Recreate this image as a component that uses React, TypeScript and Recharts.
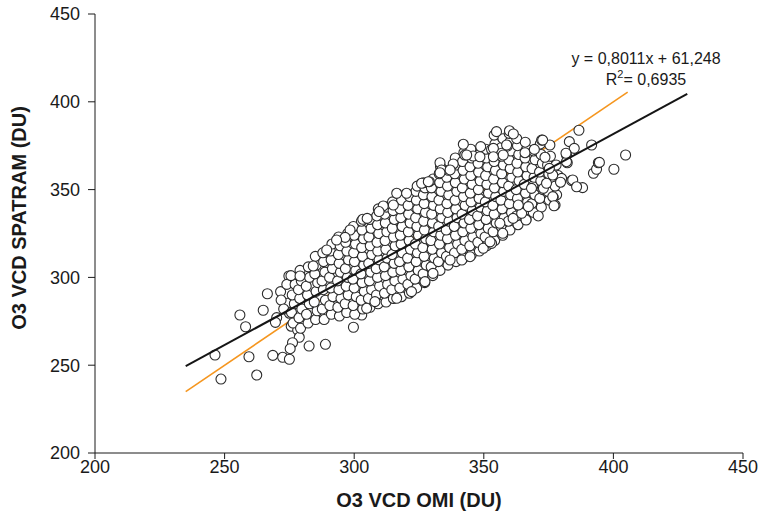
import React from 'react';
import { ScatterChart, Scatter, XAxis, YAxis } from 'recharts';

// O3 vertical column density, OMI (x) vs SPATRAM (y), Dobson units
const axisTicks = [200, 250, 300, 350, 400, 450];

const lowerTail: [number, number][] = [
  [246.3, 255.8], [248.6, 242.1], [255.9, 278.6], [258.1, 271.9], [259.4, 254.8], [262.4, 244.4],
  [264.9, 281.3], [266.5, 290.7], [268.6, 255.6], [272.4, 254.5], [275.0, 253.4], [282.6, 260.9],
  [288.9, 261.9], [270.1, 277.1], [269.6, 274.4], [275.7, 272.2], [278.2, 270.0], [278.8, 265.9],
  [276.2, 262.8], [275.3, 259.4], [275.0, 279.6], [274.8, 300.8], [271.6, 291.9], [274.2, 285.3],
  [271.8, 287.1], [274.0, 296.0], [272.8, 282.0], [299.7, 271.6], [302.9, 278.6],
];

const coreWest: [number, number][] = [
  [276.4, 274], [275.8, 280], [276.9, 285], [276.1, 290], [277.2, 296], [275.6, 301],
  [279.3, 271], [278.7, 277], [279.8, 282], [279.0, 288], [278.5, 293], [279.6, 298], [279.1, 304],
  [282.2, 274], [281.6, 279], [282.7, 285], [282.0, 290], [281.5, 295], [282.8, 300], [282.3, 306],
  [285.1, 276], [285.7, 281], [284.6, 286], [285.3, 292], [285.9, 297], [284.8, 302], [285.4, 307], [285.0, 312],
  [288.4, 276], [287.7, 282], [288.9, 287], [288.1, 293], [287.6, 298], [288.7, 303], [288.2, 309], [287.9, 314],
  [291.2, 279], [290.6, 284], [291.8, 289], [291.0, 294], [290.5, 300], [291.6, 305], [291.1, 310], [290.8, 315], [291.4, 319],
  [294.3, 278], [293.7, 283], [294.9, 288], [294.1, 293], [293.6, 298], [294.7, 303], [294.2, 308], [293.9, 313], [294.6, 318], [294.0, 323],
  [297.1, 280], [296.5, 285], [297.7, 290], [296.9, 295], [297.4, 300], [296.6, 305], [297.8, 310], [297.2, 315], [296.7, 320], [297.5, 325],
  [300.2, 279], [299.6, 284], [300.8, 289], [300.0, 294], [299.5, 299], [300.6, 304], [300.1, 309], [299.8, 314], [300.5, 319], [300.0, 324], [299.7, 329],
  [303.3, 282], [302.7, 287], [303.9, 292], [303.1, 297], [302.6, 302], [303.7, 307], [303.2, 312], [302.9, 317], [303.6, 322], [303.0, 327], [302.8, 332],
  [306.1, 283], [305.5, 288], [306.7, 293], [305.9, 298], [306.4, 303], [305.6, 308], [306.8, 313], [306.2, 318], [305.7, 323], [306.5, 328], [306.0, 333],
  [309.2, 285], [308.6, 290], [309.8, 295], [309.0, 300], [308.5, 305], [309.6, 310], [309.1, 315], [308.8, 320], [309.5, 325], [309.0, 330], [308.7, 335], [309.3, 339],
  [312.3, 286], [311.7, 291], [312.9, 296], [312.1, 301], [311.6, 306], [312.7, 311], [312.2, 316], [311.9, 321], [312.6, 326], [312.0, 331], [311.8, 336], [312.4, 340],
  [315.1, 288], [314.5, 293], [315.7, 298], [314.9, 303], [315.4, 308], [314.6, 313], [315.8, 318], [315.2, 323], [314.7, 328], [315.5, 333], [315.0, 338], [314.8, 343],
  [318.2, 289], [317.6, 294], [318.8, 299], [318.0, 304], [317.5, 309], [318.6, 314], [318.1, 319], [317.8, 324], [318.5, 329], [318.0, 334], [317.7, 339], [318.3, 344],
  [321.3, 291], [320.7, 296], [321.9, 301], [321.1, 306], [320.6, 311], [321.7, 316], [321.2, 321], [320.9, 326], [321.6, 331], [321.0, 336], [320.8, 341], [321.4, 346],
  [324.1, 294], [323.5, 299], [324.7, 304], [323.9, 309], [324.4, 314], [323.6, 319], [324.8, 324], [324.2, 329], [323.7, 334], [324.5, 339], [324.0, 344], [323.8, 349], [324.3, 352],
  [327.2, 297], [326.6, 302], [327.8, 307], [327.0, 312], [326.5, 317], [327.6, 322], [327.1, 327], [326.8, 332], [327.5, 337], [327.0, 342], [326.7, 347], [327.3, 351],
];

const coreEast: [number, number][] = [
  [330.3, 301], [329.7, 306], [330.9, 311], [330.1, 316], [329.6, 321], [330.7, 326], [330.2, 331], [329.9, 336], [330.6, 341], [330.0, 346], [329.8, 351], [330.4, 356],
  [333.1, 304], [332.5, 309], [333.7, 314], [332.9, 319], [333.4, 324], [332.6, 329], [333.8, 334], [333.2, 339], [332.7, 344], [333.5, 349], [333.0, 354], [332.8, 359], [333.3, 363],
  [336.2, 307], [335.6, 312], [336.8, 317], [336.0, 322], [335.5, 327], [336.6, 332], [336.1, 337], [335.8, 342], [336.5, 347], [336.0, 352], [335.7, 357], [336.3, 361],
  [339.3, 309], [338.7, 314], [339.9, 319], [339.1, 324], [338.6, 329], [339.7, 334], [339.2, 339], [338.9, 344], [339.6, 349], [339.0, 354], [338.8, 359], [339.4, 364], [339.0, 368],
  [342.1, 311], [341.5, 316], [342.7, 321], [341.9, 326], [342.4, 331], [341.6, 336], [342.8, 341], [342.2, 346], [341.7, 351], [342.5, 356], [342.0, 361], [341.8, 366], [342.3, 371],
  [345.2, 313], [344.6, 318], [345.8, 323], [345.0, 328], [344.5, 333], [345.6, 338], [345.1, 343], [344.8, 348], [345.5, 353], [345.0, 358], [344.7, 363], [345.3, 368], [345.0, 373],
  [348.3, 315], [347.7, 320], [348.9, 325], [348.1, 330], [347.6, 335], [348.7, 340], [348.2, 345], [347.9, 350], [348.6, 355], [348.0, 360], [347.8, 365], [348.4, 370],
  [351.1, 318], [350.5, 323], [351.7, 328], [350.9, 333], [351.4, 338], [350.6, 343], [351.8, 348], [351.2, 353], [350.7, 358], [351.5, 363], [351.0, 368], [350.8, 373],
  [354.2, 321], [353.6, 326], [354.8, 331], [354.0, 336], [353.5, 341], [354.6, 346], [354.1, 351], [353.8, 356], [354.5, 361], [354.0, 366], [353.7, 371], [354.3, 376], [354.0, 381],
  [357.3, 324], [356.7, 329], [357.9, 334], [357.1, 339], [356.6, 344], [357.7, 349], [357.2, 354], [356.9, 359], [357.6, 364], [357.0, 369], [356.8, 374], [357.4, 379],
  [360.1, 327], [359.5, 332], [360.7, 337], [359.9, 342], [360.4, 347], [359.6, 352], [360.8, 357], [360.2, 362], [359.7, 367], [360.5, 372], [360.0, 377], [359.8, 382],
  [363.2, 330], [362.6, 335], [363.8, 340], [363.0, 345], [362.5, 350], [363.6, 355], [363.1, 360], [362.8, 365], [363.5, 370], [363.0, 375], [362.7, 379],
  [366.3, 333], [365.7, 338], [366.9, 343], [366.1, 348], [365.6, 353], [366.7, 358], [366.2, 363], [365.9, 368], [366.6, 373], [366.0, 377],
  [369.1, 337], [368.5, 342], [369.7, 347], [368.9, 352], [369.4, 357], [368.6, 362], [369.8, 367], [369.2, 372],
  [372.2, 340], [371.6, 345], [372.8, 350], [372.0, 355], [371.5, 360], [372.6, 365], [372.1, 370], [371.8, 376],
  [375.3, 344], [374.7, 349], [375.9, 354], [375.1, 359], [374.6, 364], [375.7, 369],
  [378.1, 347], [377.5, 352], [378.7, 358], [377.9, 364],
];

const lowerEdge: [number, number][] = [
  [304.8, 282.4], [308.0, 286.2], [316.4, 288.1], [322.1, 291.9], [327.3, 297.6], [330.4, 302.3],
  [337.0, 309.9], [341.5, 309.9], [344.7, 311.8], [349.8, 316.6], [353.0, 319.4], [352.4, 320.3],
  [357.3, 325.1], [356.2, 330.8], [361.3, 333.6], [366.3, 332.7], [371.0, 335.0], [364.6, 336.5],
  [367.2, 340.3], [363.3, 341.2], [377.5, 341.2], [376.8, 345.6],
];

const rightTail: [number, number][] = [
  [368.4, 350.7], [373.0, 350.7], [374.2, 353.6], [380.0, 356.4], [383.9, 355.1], [388.1, 351.1],
  [376.6, 358.3], [392.3, 359.3], [393.5, 361.6], [394.2, 365.3], [400.2, 361.6], [382.2, 365.3],
  [386.7, 383.8], [375.5, 375.4], [383.0, 377.3], [384.9, 373.5], [391.6, 375.4], [404.7, 369.7],
  [394.6, 365.5], [381.9, 369.7], [381.9, 365.9], [373.6, 368.4], [375.3, 362.1], [379.6, 354.2],
  [376.6, 346.0], [377.1, 340.8], [372.3, 378.2], [384.3, 355.5], [385.8, 351.6], [381.7, 370.7],
];

const upperEdge: [number, number][] = [
  [354.9, 383.0], [359.9, 383.5], [361.4, 381.7], [342.1, 375.8], [348.8, 374.5], [359.1, 374.8],
  [372.7, 378.2], [333.1, 365.3], [333.7, 361.2], [338.2, 364.6], [342.7, 369.7], [345.9, 369.1],
  [353.0, 372.9], [356.9, 370.7], [365.9, 371.0], [369.5, 372.9], [326.7, 353.9], [329.0, 354.5],
  [353.7, 373.5], [358.8, 375.4], [316.4, 347.9], [320.2, 347.9], [311.2, 340.7], [315.1, 341.2],
  [309.6, 337.5], [303.3, 333.1], [305.0, 333.6], [298.4, 327.0], [296.5, 322.8], [293.2, 321.3],
  [289.4, 315.6], [284.2, 306.5], [279.1, 300.8], [326.0, 353.6], [328.6, 354.5], [333.1, 359.6],
  [337.0, 361.2], [343.4, 369.7], [348.5, 368.7], [353.7, 368.7], [357.5, 369.7],
];

// regression y = 0.8011x + 61.248 and the 1:1 line
const fitX = [235, 428.5];
const identityX = [235, 405.5];

const points = [...lowerTail, ...coreWest, ...coreEast, ...lowerEdge, ...rightTail, ...upperEdge].map(
  ([x, y]) => ({ x, y })
);
const fitLine = fitX.map((x) => ({ x, y: 0.8011 * x + 61.248 }));
const identityLine = identityX.map((x) => ({ x, y: x }));

const font = '"Liberation Sans", Arial, Helvetica, sans-serif';
const tickStyle = { fill: '#1a1a1a', fontSize: 18, fontFamily: font };

const Ring = (props: any) => (
  <circle cx={props.cx} cy={props.cy} r={5} fill="#fff" stroke="#2b2b2b" strokeWidth={1.1} />
);
const NoDot = () => <g />;

const YTitle = () => (
  <text
    x={19}
    y={218}
    transform="rotate(-90 19 218)"
    textAnchor="middle"
    dominantBaseline="central"
    fontFamily={font}
    fontWeight="bold"
    fontSize={20}
    fill="#1a1a1a"
  >
    O3 VCD SPATRAM (DU)
  </text>
);

const XTitle = () => (
  <text x={419} y={507} textAnchor="middle" fontFamily={font} fontWeight="bold" fontSize={20} fill="#1a1a1a">
    O3 VCD OMI (DU)
  </text>
);

export default function App() {
  return (
    <div style={{ position: 'absolute', left: 0, top: 0, width: 758, height: 514, background: '#fff' }}>
      <ScatterChart width={758} height={514} margin={{ top: 14, right: 15, bottom: 0, left: 0 }}>
        <XAxis
          type="number"
          dataKey="x"
          domain={[200, 450]}
          ticks={axisTicks}
          allowDataOverflow
          stroke="#1a1a1a"
          tickSize={6}
          tickMargin={1}
          height={61}
          tick={tickStyle}
          label={{ content: XTitle }}
        />
        <YAxis
          type="number"
          dataKey="y"
          domain={[200, 450]}
          ticks={axisTicks}
          allowDataOverflow
          stroke="#1a1a1a"
          tickSize={7}
          tickMargin={8}
          width={95}
          tick={tickStyle}
          label={{ content: YTitle }}
        />
        <Scatter
          data={identityLine}
          line={{ stroke: '#f5961f', strokeWidth: 1.6 }}
          shape={NoDot}
          isAnimationActive={false}
        />
        <Scatter data={points} shape={Ring} isAnimationActive={false} />
        <Scatter
          data={fitLine}
          line={{ stroke: '#151515', strokeWidth: 2 }}
          shape={NoDot}
          isAnimationActive={false}
        />
      </ScatterChart>
      <svg width={758} height={514} style={{ position: 'absolute', left: 0, top: 0, pointerEvents: 'none' }}>
        <text x={646} y={64} textAnchor="middle" fontFamily={font} fontSize={16} fill="#1a1a1a">
          y = 0,8011x + 61,248
        </text>
        <text x={646} y={85} textAnchor="middle" fontFamily={font} fontSize={16} fill="#1a1a1a">
          R<tspan fontSize={11} dy={-7}>2</tspan>
          <tspan dy={7}>= 0,6935</tspan>
        </text>
      </svg>
    </div>
  );
}
